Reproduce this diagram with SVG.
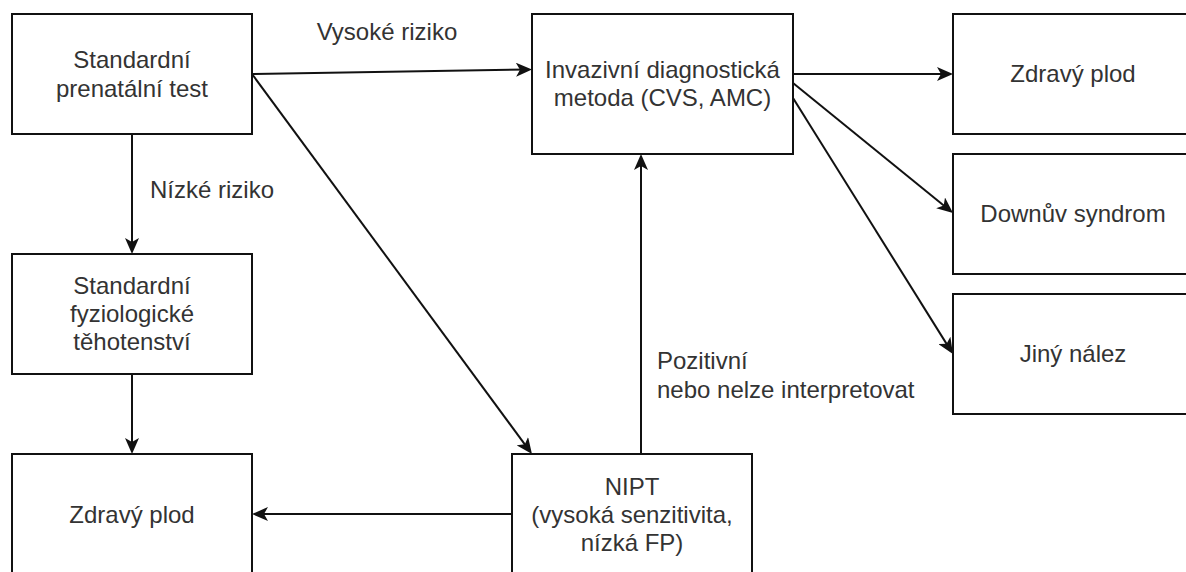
<svg xmlns="http://www.w3.org/2000/svg" width="1186" height="572" viewBox="0 0 1186 572">
<style>
.box{fill:#fff;stroke:#111;stroke-width:2}
.t{font-family:"Liberation Sans",Arial,sans-serif;font-size:24px;fill:#333;text-anchor:middle}
.l{font-family:"Liberation Sans",Arial,sans-serif;font-size:24px;fill:#333}
.e{fill:none;stroke:#111;stroke-width:2;marker-end:url(#arr)}
</style>
<defs>
<marker id="arr" markerUnits="userSpaceOnUse" viewBox="0 0 16 14" refX="12" refY="7" markerWidth="16" markerHeight="14" orient="auto">
<path d="M0,0 L16,7 L0,14 L4,7 Z" fill="#111"/>
</marker>
</defs>
<rect width="1186" height="572" fill="#fff"/>
<g id="edges">
<line class="e" x1="252" y1="74" x2="528" y2="69.5"/>
<line class="e" x1="132" y1="134" x2="132" y2="250"/>
<line class="e" x1="132" y1="374" x2="132" y2="450"/>
<line class="e" x1="252" y1="74" x2="529.6" y2="450.8"/>
<line class="e" x1="512" y1="514" x2="256" y2="514"/>
<line class="e" x1="641" y1="454" x2="641" y2="158"/>
<line class="e" x1="793" y1="74" x2="949" y2="74"/>
<line class="e" x1="793" y1="83" x2="949.9" y2="210.5"/>
<line class="e" x1="793" y1="98" x2="950.8" y2="350.6"/>
</g>
<g id="labels">
<text class="t" x="387" y="40">Vysoké riziko</text>
<text class="t" x="212" y="198">Nízké riziko</text>
<text class="l" x="657" y="369">Pozitivní</text>
<text class="l" x="657" y="398">nebo nelze interpretovat</text>
</g>
<g id="n1"><rect class="box" x="12" y="14" width="240" height="120"/><text class="t" x="132" y="68">Standardní</text><text class="t" x="132" y="97">prenatální test</text></g>
<g id="n2"><rect class="box" x="532" y="14" width="261" height="140"/><text class="t" x="662.5" y="78">Invazivní diagnostická</text><text class="t" x="662.5" y="106">metoda (CVS, AMC)</text></g>
<g id="n3"><rect class="box" x="953" y="14" width="240" height="120"/><text class="t" x="1073" y="82">Zdravý plod</text></g>
<g id="n4"><rect class="box" x="953" y="154" width="240" height="120"/><text class="t" x="1073" y="222">Downův syndrom</text></g>
<g id="n5"><rect class="box" x="953" y="294" width="240" height="120"/><text class="t" x="1073" y="362">Jiný nález</text></g>
<g id="n6"><rect class="box" x="12" y="254" width="240" height="120"/><text class="t" x="132" y="294">Standardní</text><text class="t" x="132" y="322">fyziologické</text><text class="t" x="132" y="350">těhotenství</text></g>
<g id="n7"><rect class="box" x="12" y="454" width="240" height="120"/><text class="t" x="132" y="523">Zdravý plod</text></g>
<g id="n8"><rect class="box" x="512" y="454" width="240" height="120"/><text class="t" x="632" y="495">NIPT</text><text class="t" x="632" y="523">(vysoká senzitivita,</text><text class="t" x="632" y="551">nízká FP)</text></g>
</svg>
